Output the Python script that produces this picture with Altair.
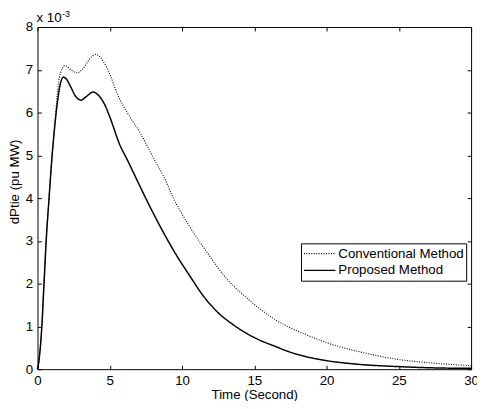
import altair as alt
import pandas as pd

# ---- data ----
series = ["Conventional Method", "Proposed Method"]

t_conv = [0, 0.1, 0.3, 0.45, 0.6, 0.8, 1.0, 1.2, 1.5, 1.9, 2.3, 2.74, 3.2, 3.6, 4.03,
          4.55, 5.0, 5.56, 6.24, 7.15, 8.0, 8.74, 9.4, 10.5, 11.9, 13.0, 14.4, 16.4,
          17.3, 18.5, 20, 22, 24.9, 27.5, 30]
v_conv = [0, 0.2, 1.0, 2.0, 3.0, 4.0, 4.95, 5.75, 6.8, 7.1, 7.0, 6.93, 7.05, 7.25, 7.36,
          7.2, 6.9, 6.41, 5.98, 5.5, 4.95, 4.5, 4.0, 3.35, 2.65, 2.15, 1.69, 1.17,
          1.0, 0.82, 0.62, 0.43, 0.23, 0.14, 0.08]

t_prop = [0, 0.1, 0.3, 0.45, 0.6, 0.8, 1.0, 1.2, 1.4, 1.6, 1.8, 2.0, 2.3, 2.6, 3.0,
          3.4, 3.85, 4.2, 4.66, 5.0, 5.68, 6.25, 7.0, 7.5, 8.5, 9.64, 10.5, 11.5, 12.5,
          13.5, 14.4, 15.5, 16.4, 17.3, 18.5, 20, 22, 25, 27.5, 30]
v_prop = [0, 0.2, 1.0, 2.0, 3.0, 4.0, 4.95, 5.7, 6.3, 6.7, 6.83, 6.78, 6.6, 6.4, 6.29,
          6.38, 6.48, 6.41, 6.18, 5.9, 5.26, 4.87, 4.34, 3.99, 3.33, 2.65, 2.2, 1.7, 1.32,
          1.05, 0.85, 0.66, 0.54, 0.42, 0.3, 0.2, 0.12, 0.06, 0.03, 0.02]

x_ticks = [0, 5, 10, 15, 20, 25, 30]
y_ticks = [0, 1, 2, 3, 4, 5, 6, 7, 8]
x_title = "Time (Second)"
y_title = "dPtie (pu MW)"
exp_base = ["x 10"]
exp_power = ["-3"]

df = pd.concat([
    pd.DataFrame({"t": t_conv, "v": v_conv, "series": series[0]}),
    pd.DataFrame({"t": t_prop, "v": v_prop, "series": series[1]}),
], ignore_index=True)

W, H = 441, 348
FONT = "Liberation Sans"
FS = 13.5

xs = alt.Scale(domain=[0, 30], nice=False, zero=False)
ys = alt.Scale(domain=[0, 8], nice=False)

tick_axis = dict(tickSize=4, tickColor="black", tickWidth=1, domain=False, grid=False,
                 labelFont=FONT, labelFontSize=FS, labelColor="black",
                 labelFlush=False, labelOverlap=False, labelBound=False)
title_style = dict(titleFont=FONT, titleFontSize=FS, titleFontWeight="normal",
                   titleColor="black")

lines = alt.Chart(df).mark_line(interpolate="monotone", color="black").encode(
    x=alt.X("t:Q", scale=xs, axis=alt.Axis(
        orient="top", offset=-H, values=x_ticks, labelPadding=-9,
        labelBaseline="top", title=x_title, titleX=W / 2, titleY=19,
        titleBaseline="top", titleAlign="center", **tick_axis, **title_style)),
    y=alt.Y("v:Q", scale=ys, axis=alt.Axis(
        orient="right", offset=-W, values=y_ticks, labelPadding=-9,
        labelAlign="right", labelBaseline="middle", title=y_title,
        titleX=-23, titleY=157, titleAngle=270, titleAlign="center",
        titleBaseline="middle", **tick_axis, **title_style)),
    strokeDash=alt.StrokeDash("series:N", scale=alt.Scale(domain=series, range=[[1, 1.5], [1, 0]]),
                              legend=alt.Legend(
                                  orient="none", legendX=268, legendY=220, title=None,
                                  symbolType="stroke", symbolSize=1024,
                                  symbolStrokeColor="black", symbolStrokeWidth=1.3,
                                  labelFont=FONT, labelFontSize=FS, labelColor="black",
                                  labelOffset=2, padding=2, rowPadding=0, clipHeight=17,
                                  strokeColor="black", fillColor="white")),
    strokeWidth=alt.StrokeWidth("series:N", scale=alt.Scale(domain=series, range=[1.1, 1.5]),
                                legend=None),
)

frame = alt.Chart(df).mark_line(strokeOpacity=0).encode(
    x=alt.X("t:Q", scale=xs, axis=alt.Axis(
        orient="bottom", offset=-H, values=x_ticks, labels=False, title=None, **tick_axis)),
    y=alt.Y("v:Q", scale=ys, axis=alt.Axis(
        orient="left", offset=-W, values=y_ticks, labels=False, title=None, **tick_axis)),
)

base_txt = alt.Chart(pd.DataFrame({"s": exp_base})).mark_text(
    font=FONT, fontSize=FS, color="black", align="left", baseline="alphabetic"
).encode(text="s:N", x=alt.value(-1), y=alt.value(-5))

pow_txt = alt.Chart(pd.DataFrame({"s": exp_power})).mark_text(
    font=FONT, fontSize=9, color="black", align="left", baseline="alphabetic"
).encode(text="s:N", x=alt.value(25), y=alt.value(-10))

chart = alt.layer(lines, frame, base_txt, pow_txt).resolve_scale(
    x="independent", y="independent"
).properties(
    width=W, height=H,
    autosize=alt.AutoSizeParams(type="none"),
    padding={"left": 30, "top": 16, "right": 6, "bottom": 29},
).configure_view(stroke="black", strokeWidth=1)

chart.save("out.html", embed_options={"renderer": "svg", "actions": False})
